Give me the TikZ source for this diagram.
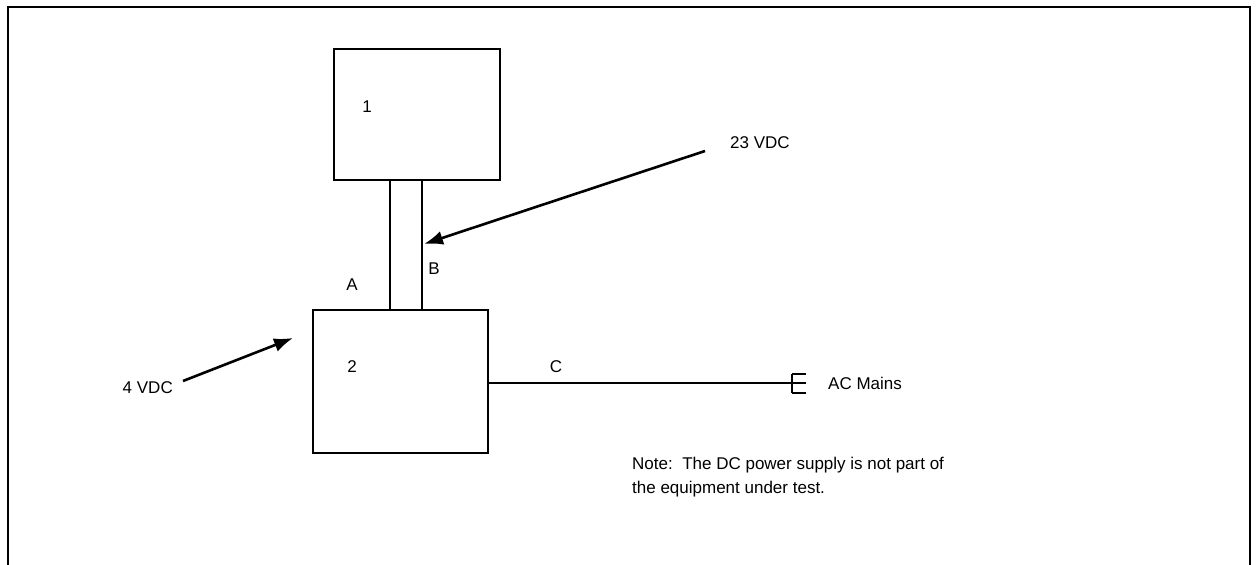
\documentclass[tikz,border=0pt]{standalone}
\usepackage{fontspec}
\setmainfont{Liberation Sans}
\usetikzlibrary{arrows.meta,positioning}

\begin{document}
\begin{tikzpicture}[x=1pt,y=-1pt,>=Latex,
unit box/.style={draw,line width=1.6pt,inner sep=0pt},
lbl/.style={inner sep=0pt,font=\fontsize{17}{24}\selectfont},
wire/.style={line width=1.6pt},
feed/.style={-{Latex[length=19pt,width=14pt]},line width=2.6pt}]
\useasboundingbox (0,0) rectangle (1259,565);
\draw[line width=2pt] (8,565) -- (8,7) -- (1250,7) -- (1250,565);
\node[unit box,minimum width=166pt,minimum height=131pt] (u1) at (417,114.5) {};
\node[unit box,minimum width=175pt,minimum height=143pt] (u2) at (400.5,381.5) {};
\node[lbl] (n1) at (367,107) {1};
\node[lbl] (n2) at (352,367) {2};
\node[lbl] (la) at (352,285) {A};
\node[lbl] (lb) at (434,269) {B};
\node[lbl] (lc) at (556,367) {C};
\node[lbl,anchor=west] (v23) at (730,143) {23 VDC};
\node[lbl,anchor=east] (v4) at (173,388) {4 VDC};
\node[lbl,anchor=west] (mains) at (828,383) {AC Mains};
\node[lbl,anchor=north west,align=left] (note) at (632,457) {Note:\ \ The DC power supply is not part of\\the equipment under test.};
\coordinate (plug) at (792,383);
\coordinate (tipB) at (424,244);
\coordinate (tipA) at (293,338);
% cable between units
\draw[wire] ([xshift=-27pt]u1.south) -- ([xshift=-27pt]u1.south |- u2.north);
\draw[wire] ([xshift=5pt]u1.south) -- ([xshift=5pt]u1.south |- u2.north);
\draw[wire] (u2.east |- plug) -- ([xshift=14pt]plug);
\draw[wire] ([yshift=9pt]plug) -- ([yshift=-10pt]plug);
\draw[wire] ([yshift=9pt]plug) -- ++(14,0);
\draw[wire] ([yshift=-10pt]plug) -- ++(14,0);
% supply arrows
\draw[feed] ([xshift=-25pt,yshift=-8pt]v23.west) -- (tipB);
\draw[feed] ([xshift=10pt,yshift=7pt]v4.east) -- (tipA);
\end{tikzpicture}
\end{document}
